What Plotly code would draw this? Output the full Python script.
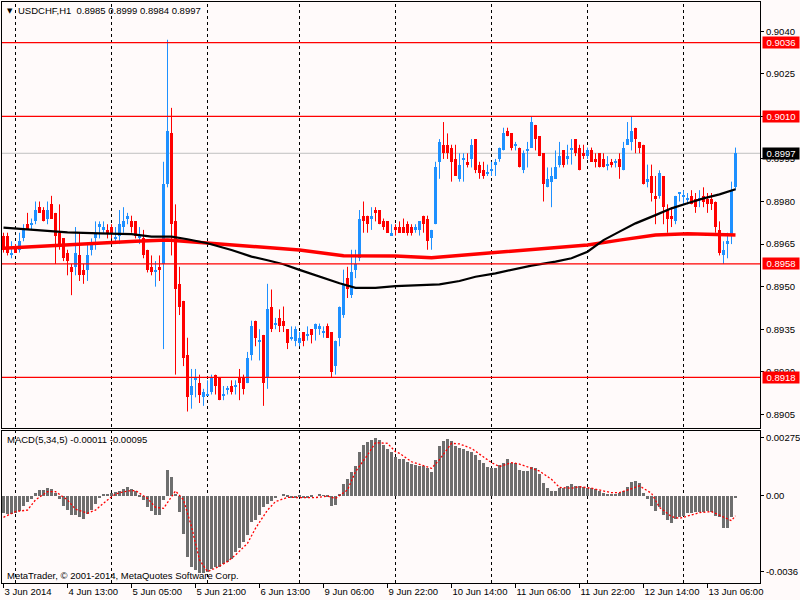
import plotly.graph_objects as go
from plotly.subplots import make_subplots

# USDCHF H1, 3 Jun 2014 21:00 .. 13 Jun 2014 13:00 (one value per bar)
opens = [
    0.8968, 0.8968, 0.8961, 0.8964, 0.8963, 0.8967, 0.8972, 0.8972, 0.8973, 0.8978,
    0.8977, 0.8974, 0.8979, 0.8976, 0.8969, 0.8967, 0.8962, 0.8957, 0.8957, 0.8961,
    0.8956, 0.8956, 0.8963, 0.8967, 0.8971, 0.8970, 0.8970, 0.8971, 0.8967, 0.8968,
    0.8971, 0.8974, 0.8973, 0.8973, 0.8967, 0.8967, 0.8963, 0.8957, 0.8955, 0.8957,
    0.8958, 0.8986, 0.9004, 0.8973, 0.8951, 0.8945, 0.8926, 0.8912, 0.8917, 0.8916,
    0.8911, 0.8912, 0.8913, 0.8919, 0.8918, 0.8912, 0.8914, 0.8915, 0.8915, 0.8918,
    0.8918, 0.8916, 0.8926, 0.8938, 0.8931, 0.8933, 0.8918, 0.8943, 0.8937, 0.8939,
    0.8938, 0.8935, 0.8932, 0.8931, 0.8930, 0.8934, 0.8933, 0.8935, 0.8935, 0.8935,
    0.8934, 0.8936, 0.8934, 0.8922, 0.8932, 0.8940, 0.8953, 0.8947, 0.8956, 0.8960,
    0.8975, 0.8975, 0.8974, 0.8977, 0.8977, 0.8973, 0.8973, 0.8968, 0.8971, 0.8971,
    0.8971, 0.8972, 0.8971, 0.8970, 0.8970, 0.8975, 0.8974, 0.8967, 0.8972, 0.8994,
    0.9000, 0.9000, 0.8999, 0.8995, 0.8988, 0.8995, 0.8994, 0.8995, 0.9002, 0.8993,
    0.8991, 0.8990, 0.8991, 0.8993, 0.8995, 0.8998, 0.9005, 0.9004, 0.9000, 0.8999,
    0.8991, 0.8998, 0.8999, 0.9007, 0.9003, 0.8997, 0.8985, 0.8987, 0.8988, 0.8993,
    0.8998, 0.8995, 0.8998, 0.9002, 0.8999, 0.8997, 0.8996, 0.8998, 0.8995, 0.8997,
    0.8995, 0.8993, 0.8994, 0.8994, 0.8995, 0.8991, 0.9000, 0.9001, 0.9006, 0.9001,
    0.9000, 0.8987, 0.8989, 0.8982, 0.8982, 0.8989, 0.8977, 0.8975, 0.8973, 0.8983,
    0.8982, 0.8981, 0.8982, 0.8981, 0.8981, 0.8982, 0.8981, 0.8981, 0.8980, 0.8970,
    0.8961, 0.8965, 0.8968, 0.8985,
]
highs = [
    0.8969, 0.8969, 0.8966, 0.8965, 0.8969, 0.8972, 0.8976, 0.8974, 0.8980, 0.8980,
    0.8978, 0.8980, 0.8982, 0.8976, 0.8979, 0.8967, 0.8963, 0.8958, 0.8971, 0.8969,
    0.8958, 0.8965, 0.8967, 0.8973, 0.8973, 0.8973, 0.8972, 0.8972, 0.8971, 0.8977,
    0.8978, 0.8976, 0.8975, 0.8973, 0.8971, 0.8970, 0.8963, 0.8961, 0.8959, 0.8961,
    0.8994, 0.9037, 0.9013, 0.8979, 0.8957, 0.8945, 0.8932, 0.8921, 0.8921, 0.8919,
    0.8914, 0.8917, 0.8919, 0.8919, 0.8918, 0.8915, 0.8915, 0.8917, 0.8917, 0.8921,
    0.8919, 0.8927, 0.8938, 0.8938, 0.8935, 0.8933, 0.8951, 0.8949, 0.8939, 0.8942,
    0.8943, 0.8935, 0.8936, 0.8936, 0.8934, 0.8934, 0.8936, 0.8935, 0.8937, 0.8937,
    0.8936, 0.8937, 0.8934, 0.8931, 0.8943, 0.8956, 0.8957, 0.8963, 0.8963, 0.8977,
    0.8980, 0.8975, 0.8978, 0.8978, 0.8977, 0.8974, 0.8973, 0.8972, 0.8972, 0.8973,
    0.8974, 0.8973, 0.8972, 0.8972, 0.8973, 0.8975, 0.8975, 0.8970, 0.8994, 0.9002,
    0.9008, 0.9004, 0.9000, 0.9000, 0.8997, 0.8997, 0.8997, 0.9002, 0.9002, 0.8994,
    0.8994, 0.8993, 0.8994, 0.8995, 0.8999, 0.9006, 0.9006, 0.9004, 0.9001, 0.8999,
    0.8998, 0.9001, 0.9010, 0.9007, 0.9003, 0.8997, 0.8992, 0.8992, 0.8998, 0.9001,
    0.8998, 0.9000, 0.9002, 0.9002, 0.9000, 0.9000, 0.8999, 0.8999, 0.8997, 0.8997,
    0.8997, 0.8996, 0.8995, 0.8995, 0.8997, 0.9001, 0.9008, 0.9010, 0.9006, 0.9001,
    0.9000, 0.8993, 0.8993, 0.8989, 0.8991, 0.8989, 0.8979, 0.8978, 0.8982, 0.8983,
    0.8984, 0.8983, 0.8984, 0.8983, 0.8984, 0.8985, 0.8983, 0.8983, 0.8980, 0.8973,
    0.8966, 0.8969, 0.8987, 0.8999,
]
lows = [
    0.8962, 0.8961, 0.8960, 0.8962, 0.8962, 0.8966, 0.8970, 0.8970, 0.8972, 0.8976,
    0.8973, 0.8972, 0.8974, 0.8958, 0.8963, 0.8959, 0.8954, 0.8947, 0.8954, 0.8952,
    0.8951, 0.8952, 0.8961, 0.8963, 0.8967, 0.8969, 0.8967, 0.8967, 0.8965, 0.8965,
    0.8969, 0.8972, 0.8969, 0.8967, 0.8965, 0.8960, 0.8955, 0.8954, 0.8950, 0.8952,
    0.8928, 0.8985, 0.8961, 0.8919, 0.8940, 0.8922, 0.8906, 0.8907, 0.8911, 0.8909,
    0.8908, 0.8912, 0.8912, 0.8912, 0.8910, 0.8910, 0.8912, 0.8912, 0.8912, 0.8910,
    0.8912, 0.8916, 0.8924, 0.8929, 0.8924, 0.8908, 0.8914, 0.8934, 0.8935, 0.8934,
    0.8934, 0.8928, 0.8931, 0.8929, 0.8929, 0.8929, 0.8931, 0.8930, 0.8931, 0.8933,
    0.8932, 0.8932, 0.8918, 0.8919, 0.8929, 0.8939, 0.8946, 0.8946, 0.8953, 0.8959,
    0.8969, 0.8969, 0.8970, 0.8973, 0.8972, 0.8970, 0.8969, 0.8968, 0.8968, 0.8969,
    0.8969, 0.8968, 0.8968, 0.8969, 0.8968, 0.8969, 0.8963, 0.8963, 0.8972, 0.8988,
    0.8995, 0.8995, 0.8987, 0.8989, 0.8987, 0.8987, 0.8992, 0.8992, 0.8990, 0.8988,
    0.8988, 0.8989, 0.8989, 0.8989, 0.8994, 0.8998, 0.9003, 0.8998, 0.8998, 0.8992,
    0.8990, 0.8992, 0.8999, 0.8998, 0.8996, 0.8980, 0.8985, 0.8978, 0.8988, 0.8992,
    0.8992, 0.8993, 0.8993, 0.8996, 0.8991, 0.8995, 0.8995, 0.8994, 0.8992, 0.8992,
    0.8992, 0.8991, 0.8992, 0.8992, 0.8988, 0.8991, 0.9000, 0.8998, 0.8997, 0.8997,
    0.8986, 0.8985, 0.8980, 0.8972, 0.8981, 0.8972, 0.8969, 0.8971, 0.8972, 0.8980,
    0.8979, 0.8979, 0.8979, 0.8976, 0.8978, 0.8978, 0.8976, 0.8977, 0.8969, 0.8961,
    0.8958, 0.8960, 0.8965, 0.8984,
]
closes = [
    0.8963, 0.8962, 0.8962, 0.8962, 0.8966, 0.8970, 0.8970, 0.8972, 0.8977, 0.8976,
    0.8973, 0.8977, 0.8974, 0.8968, 0.8965, 0.8960, 0.8959, 0.8955, 0.8962, 0.8954,
    0.8954, 0.8961, 0.8965, 0.8969, 0.8972, 0.8971, 0.8969, 0.8969, 0.8967, 0.8972,
    0.8973, 0.8975, 0.8971, 0.8968, 0.8968, 0.8961, 0.8956, 0.8955, 0.8956, 0.8956,
    0.8986, 0.9005, 0.8972, 0.8949, 0.8943, 0.8925, 0.8911, 0.8915, 0.8918, 0.8912,
    0.8913, 0.8912, 0.8918, 0.8915, 0.8910, 0.8912, 0.8914, 0.8913, 0.8915, 0.8916,
    0.8914, 0.8925, 0.8936, 0.8932, 0.8931, 0.8916, 0.8942, 0.8935, 0.8937, 0.8936,
    0.8936, 0.8930, 0.8932, 0.8935, 0.8932, 0.8931, 0.8933, 0.8933, 0.8937, 0.8936,
    0.8934, 0.8932, 0.8920, 0.8931, 0.8943, 0.8951, 0.8949, 0.8955, 0.8958, 0.8974,
    0.8973, 0.8972, 0.8975, 0.8976, 0.8972, 0.8971, 0.8969, 0.8969, 0.8970, 0.8969,
    0.8969, 0.8969, 0.8969, 0.8971, 0.8973, 0.8972, 0.8966, 0.8970, 0.8992, 0.9001,
    0.8997, 0.8997, 0.8994, 0.8989, 0.8993, 0.8995, 0.8993, 0.9000, 0.8991, 0.8990,
    0.8989, 0.8990, 0.8991, 0.8994, 0.8999, 0.9004, 0.9003, 0.8999, 0.9000, 0.8992,
    0.8997, 0.8998, 0.9008, 0.9002, 0.8996, 0.8986, 0.8988, 0.8989, 0.8992, 0.8996,
    0.8993, 0.8996, 0.8999, 0.8997, 0.8991, 0.8996, 0.8998, 0.8994, 0.8994, 0.8992,
    0.8992, 0.8993, 0.8993, 0.8994, 0.8992, 0.8999, 0.9002, 0.9005, 0.9002, 0.8999,
    0.8986, 0.8988, 0.8983, 0.8981, 0.8990, 0.8978, 0.8974, 0.8974, 0.8982, 0.8983,
    0.8982, 0.8981, 0.8979, 0.8978, 0.8981, 0.8980, 0.8979, 0.8979, 0.8971, 0.8962,
    0.8963, 0.8966, 0.8984, 0.8997,
]

# moving averages, read at a subset of bars
ma_black_bars = [0, 8, 16, 24, 32, 37, 42, 46, 51, 57, 62, 66, 70, 74, 79, 84, 88, 93, 98,
                 103, 109, 114, 118, 123, 128, 132, 138, 142, 146, 150, 154, 158, 163, 167,
                 171, 175, 179, 183]
ma_black = [0.89708, 0.89699, 0.89691, 0.89688, 0.89685, 0.89676, 0.89676, 0.89667, 0.89653,
            0.89629, 0.89606, 0.89593, 0.89579, 0.89559, 0.89535, 0.89512, 0.89496, 0.89496,
            0.89502, 0.89505, 0.89508, 0.89520, 0.89535, 0.89547, 0.89561, 0.89574, 0.89588,
            0.89600, 0.89623, 0.89664, 0.89694, 0.89723, 0.89752, 0.89776, 0.89794, 0.89811,
            0.89825, 0.89843]
ma_red_bars = [0, 8, 16, 24, 33, 41, 49, 58, 67, 74, 85, 98, 107, 114, 123, 132, 146, 154,
               163, 171, 179, 183]
ma_red = [0.89635, 0.89641, 0.89650, 0.89655, 0.89660, 0.89664, 0.89656, 0.89644, 0.89636,
          0.89629, 0.89609, 0.89608, 0.89602, 0.89610, 0.89620, 0.89629, 0.89647, 0.89664,
          0.89682, 0.89686, 0.89682, 0.89682]

# MACD(5,34,5) main histogram, one value per bar
macd_hist = [
    -0.00080, -0.00086, -0.00086, -0.00080, -0.00071, -0.00047, -0.00028, -0.00016, 0.00014, 0.00025,
    0.00025, 0.00036, 0.00030, 0.00014, -0.00016, -0.00047, -0.00068, -0.00090, -0.00090, -0.00099,
    -0.00108, -0.00086, -0.00068, -0.00039, -0.00013, 0.00008, 0.00008, 0.00014, 0.00019, 0.00022,
    0.00030, 0.00039, 0.00033, 0.00024, -0.00002, -0.00020, -0.00055, -0.00071, -0.00090, -0.00090,
    -0.00020, 0.00121, 0.00086, 0.00010, -0.00075, -0.00182, -0.00288, -0.00335, -0.00353, -0.00363,
    -0.00365, -0.00360, -0.00347, -0.00335, -0.00335, -0.00324, -0.00311, -0.00300, -0.00264, -0.00245,
    -0.00217, -0.00185, -0.00122, -0.00115, -0.00091, -0.00055, -0.00039, -0.00025, -0.00013, 0.00000,
    0.00008, -0.00008, -0.00013, -0.00013, -0.00008, -0.00013, -0.00013, -0.00005, 0.00000, 0.00008,
    0.00003, -0.00005, -0.00049, -0.00044, 0.00008, 0.00055, 0.00077, 0.00113, 0.00140, 0.00204,
    0.00239, 0.00255, 0.00262, 0.00270, 0.00262, 0.00239, 0.00218, 0.00207, 0.00184, 0.00171,
    0.00171, 0.00160, 0.00149, 0.00145, 0.00141, 0.00140, 0.00129, 0.00110, 0.00168, 0.00234,
    0.00259, 0.00265, 0.00259, 0.00234, 0.00223, 0.00218, 0.00212, 0.00207, 0.00192, 0.00168,
    0.00152, 0.00134, 0.00129, 0.00129, 0.00145, 0.00156, 0.00171, 0.00156, 0.00156, 0.00121,
    0.00116, 0.00116, 0.00134, 0.00129, 0.00101, 0.00061, 0.00035, 0.00024, 0.00024, 0.00035,
    0.00035, 0.00047, 0.00053, 0.00047, 0.00047, 0.00042, 0.00038, 0.00035, 0.00031, 0.00024,
    0.00011, 0.00008, 0.00008, 0.00008, 0.00011, 0.00024, 0.00042, 0.00066, 0.00069, 0.00058,
    0.00014, -0.00016, -0.00049, -0.00071, -0.00055, -0.00091, -0.00115, -0.00127, -0.00110, -0.00102,
    -0.00096, -0.00080, -0.00080, -0.00075, -0.00075, -0.00075, -0.00071, -0.00075, -0.00096, -0.00102,
    -0.00154, -0.00154, -0.00099, -0.00011,
]
signal_bars = [0, 3, 6, 8, 11, 13, 16, 18, 21, 23, 26, 28, 31, 33, 36, 38, 40, 42, 43, 45, 47,
               49, 51, 53, 56, 58, 61, 63, 66, 68, 71, 74, 78, 81, 83, 86, 88, 91, 93, 96, 98,
               99, 102, 104, 107, 109, 112, 114, 117, 119, 122, 124, 127, 129, 132, 134, 137,
               139, 142, 144, 147, 149, 152, 154, 157, 159, 162, 164, 167, 169, 172, 174, 177,
               179, 182, 183]
signal_vals = [-0.00102, -0.00075, -0.00068, -0.00020, 0.00019, 0.00019, -0.00020, -0.00064,
               -0.00083, -0.00068, -0.00020, 0.00008, 0.00022, 0.00024, -0.00013, -0.00055,
               -0.00060, -0.00002, 0.00022, -0.00020, -0.00146, -0.00303, -0.00358, -0.00342,
               -0.00311, -0.00280, -0.00225, -0.00154, -0.00068, -0.00028, -0.00008, -0.00009,
               -0.00009, -0.00002, -0.00013, 0.00027, 0.00113, 0.00192, 0.00250, 0.00247,
               0.00207, 0.00200, 0.00160, 0.00148, 0.00129, 0.00170, 0.00247, 0.00244, 0.00223,
               0.00196, 0.00156, 0.00137, 0.00156, 0.00149, 0.00129, 0.00116, 0.00077, 0.00039,
               0.00035, 0.00042, 0.00035, 0.00027, 0.00014, 0.00014, 0.00035, 0.00046, 0.00011,
               -0.00055, -0.00099, -0.00107, -0.00091, -0.00080, -0.00075, -0.00091, -0.00118,
               -0.00095]

level_prices = [0.9036, 0.9010, 0.8958, 0.8918]
bid_price = 0.8997

day_start_bars = [3, 27, 51, 74, 98, 122, 146, 170]
time_tick_bars = [0, 16, 32, 48, 64, 80, 96, 112, 128, 144, 160, 176]
time_tick_labels = ["3 Jun 2014", "4 Jun 13:00", "5 Jun 05:00", "5 Jun 21:00", "6 Jun 13:00",
                    "9 Jun 06:00", "9 Jun 22:00", "10 Jun 14:00", "11 Jun 06:00",
                    "11 Jun 22:00", "12 Jun 14:00", "13 Jun 06:00"]
price_ticks = [0.9040, 0.9025, 0.9010, 0.8995, 0.8980, 0.8965, 0.8950, 0.8935, 0.8920, 0.8905]
macd_ticks = [0.00275, 0.0, -0.0036]
macd_tick_labels = ["0.00275", "0.00", "-0.0036"]

symbol_text = "USDCHF,H1\u00a0\u00a00.8985 0.8999 0.8984 0.8997"
macd_text = "MACD(5,34,5) -0.00011 -0.00095"
copyright_text = "MetaTrader, © 2001-2014, MetaQuotes Software Corp."

BG = "#FFFAFA"
UP = "#1E90FF"
DOWN = "#FF0000"
FONT = "Liberation Sans"

bars = list(range(len(opens)))
up_bars = [i for i in bars if closes[i] >= opens[i]]
down_bars = [i for i in bars if closes[i] < opens[i]]

fig = make_subplots(rows=2, cols=1, shared_xaxes=True, vertical_spacing=0.005)


def bodies(idx, color):
    base, height = [], []
    for i in idx:
        lo, hi = min(opens[i], closes[i]), max(opens[i], closes[i])
        if hi - lo < 0.00004:  # doji: keep a 1px body visible
            mid = (hi + lo) / 2
            lo, hi = mid - 0.00002, mid + 0.00002
        base.append(lo)
        height.append(hi - lo)
    return go.Bar(x=idx, y=height, base=base, width=0.75,
                  marker=dict(color=color, line=dict(width=0)), hoverinfo="skip")


def wicks(idx, color):
    xs, ys = [], []
    for i in idx:
        xs += [i, i, None]
        ys += [lows[i], highs[i], None]
    return go.Scatter(x=xs, y=ys, mode="lines", line=dict(color=color, width=1),
                      hoverinfo="skip")


fig.add_trace(wicks(up_bars, UP), row=1, col=1)
fig.add_trace(wicks(down_bars, DOWN), row=1, col=1)
fig.add_trace(bodies(up_bars, UP), row=1, col=1)
fig.add_trace(bodies(down_bars, DOWN), row=1, col=1)

fig.add_trace(go.Scatter(x=ma_red_bars, y=ma_red, mode="lines",
                         line=dict(color="#FF0000", width=3.5)), row=1, col=1)
fig.add_trace(go.Scatter(x=ma_black_bars, y=ma_black, mode="lines",
                         line=dict(color="black", width=2.2)), row=1, col=1)

fig.add_trace(go.Bar(x=bars, y=macd_hist, width=0.75,
                     marker=dict(color="#6E6E6E", line=dict(width=0))), row=2, col=1)
fig.add_trace(go.Scatter(x=signal_bars, y=signal_vals, mode="lines",
                         line=dict(color="#FF0000", width=1.3, dash="2px,2px")), row=2, col=1)

# horizontal levels + bid line
fig.add_shape(type="line", xref="x domain", x0=0, x1=1, yref="y", y0=bid_price, y1=bid_price,
              line=dict(color="#C0C0C0", width=1), layer="below")
for p in level_prices:
    fig.add_shape(type="line", xref="x domain", x0=0, x1=1, yref="y", y0=p, y1=p,
                  line=dict(color="#FF0000", width=1.2))

# day separators
for b in day_start_bars:
    fig.add_shape(type="line", xref="x", x0=b, x1=b, yref="paper", y0=0, y1=1,
                  line=dict(color="black", width=1, dash="3px,3px"), layer="below")

# price boxes on the right scale
for p in level_prices:
    fig.add_annotation(x=1, xref="paper", y=p, yref="y", text=f"{p:.4f}", showarrow=False,
                       xanchor="left", xshift=2, bgcolor="#FF0000", width=36, height=11,
                       borderpad=0, font=dict(family=FONT, size=9.5, color="white"))
fig.add_annotation(x=1, xref="paper", y=bid_price, yref="y", text=f"{bid_price:.4f}",
                   showarrow=False, xanchor="left", xshift=2, bgcolor="black", width=36,
                   height=11, borderpad=0, font=dict(family=FONT, size=9.5, color="white"))

fig.add_annotation(x=0, xref="paper", y=1, yref="paper", text="▼", showarrow=False,
                   xanchor="left", yanchor="middle", xshift=3, yshift=-8.5,
                   font=dict(family="DejaVu Sans", size=7, color="black"))
fig.add_annotation(x=0, xref="paper", y=1, yref="paper", text=symbol_text, showarrow=False,
                   xanchor="left", yanchor="middle", xshift=14, yshift=-8.5,
                   font=dict(family=FONT, size=9.5, color="black"))
fig.add_annotation(x=0, xref="paper", y=1, yref="y2 domain", text=macd_text, showarrow=False,
                   xanchor="left", yanchor="middle", xshift=3, yshift=-8.5,
                   font=dict(family=FONT, size=9.5, color="black"))
fig.add_annotation(x=0, xref="paper", y=0, yref="y2 domain", text=copyright_text,
                   showarrow=False, xanchor="left", yanchor="middle", xshift=3, yshift=8,
                   font=dict(family=FONT, size=9.5, color="black"))

axis_common = dict(showline=True, mirror=True, linecolor="black", linewidth=1,
                   showgrid=False, zeroline=False)

fig.update_xaxes(range=[-0.375, 189.125], **axis_common)
fig.update_xaxes(showticklabels=False, ticks="", row=1, col=1)
fig.update_xaxes(tickmode="array", tickvals=time_tick_bars, ticktext=time_tick_labels,
                 ticks="outside", ticklen=4, tickcolor="black", tickangle=0,
                 ticklabelposition="outside right", row=2, col=1)

fig.update_yaxes(side="right", ticks="outside", ticklen=3, tickcolor="black", **axis_common)
fig.update_yaxes(range=[0.89002, 0.90503], tickmode="array", tickvals=price_ticks,
                 tickformat=".4f", domain=[0.2668, 1.0], row=1, col=1)
fig.update_yaxes(range=[-0.00412, 0.00305], tickmode="array", tickvals=macd_ticks,
                 ticktext=macd_tick_labels, domain=[0.0, 0.2616], row=2, col=1)

fig.update_layout(
    width=800, height=600,
    margin=dict(l=2, r=40, t=2, b=17, autoexpand=False),
    paper_bgcolor=BG, plot_bgcolor=BG,
    barmode="overlay", bargap=0, showlegend=False, hovermode=False,
    font=dict(family=FONT, size=9.5, color="black"),
)

fig.write_html("out.html", config={"displayModeBar": False},
               post_script="document.body.style.margin='0';"
                           "document.body.style.background='" + BG + "';")
